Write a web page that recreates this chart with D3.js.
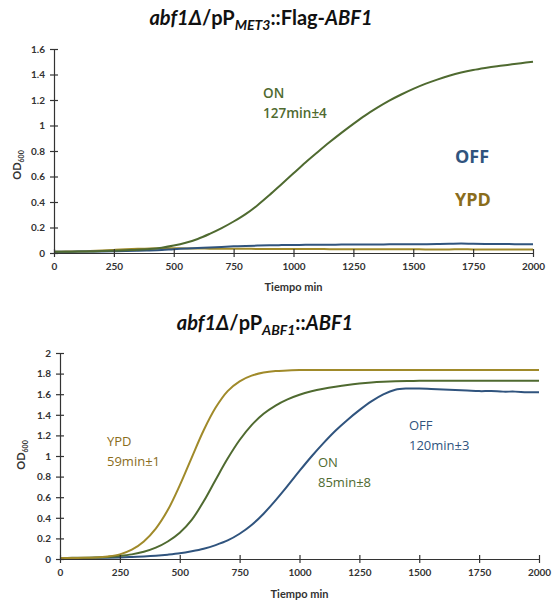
<!DOCTYPE html>
<html>
<head>
<meta charset="utf-8">
<script src="https://cdn.jsdelivr.net/npm/d3@7"></script>
<style>
  body { margin: 0; background: #fff; }
  svg { font-family: Lato, "Open Sans", sans-serif; }
</style>
</head>
<body>
<div id="chart"></div>
<script>
// time points, minutes
const times = d3.range(0, 2001, 50);
const xTicks = [0, 250, 500, 750, 1000, 1250, 1500, 1750, 2000];
const topYTicks = [0, 0.2, 0.4, 0.6, 0.8, 1, 1.2, 1.4, 1.6];
const bottomYTicks = [0, 0.2, 0.4, 0.6, 0.8, 1, 1.2, 1.4, 1.6, 1.8, 2];

// pP_MET3::Flag-ABF1
const metOn = [0.010, 0.010, 0.011, 0.012, 0.015, 0.018, 0.022, 0.026, 0.032, 0.042,
  0.058, 0.080, 0.110, 0.150, 0.195, 0.247, 0.305, 0.375, 0.455, 0.540,
  0.625, 0.710, 0.790, 0.868, 0.942, 1.013, 1.080, 1.140, 1.195, 1.243,
  1.287, 1.326, 1.360, 1.390, 1.415, 1.435, 1.451, 1.465, 1.477, 1.489, 1.500];
const metOff = [0.010, 0.010, 0.011, 0.011, 0.012, 0.013, 0.015, 0.017, 0.020, 0.024,
  0.030, 0.035, 0.040, 0.044, 0.048, 0.052, 0.055, 0.058, 0.060, 0.062,
  0.063, 0.064, 0.065, 0.065, 0.066, 0.066, 0.067, 0.067, 0.068, 0.068,
  0.069, 0.069, 0.070, 0.072, 0.074, 0.072, 0.071, 0.070, 0.070, 0.069, 0.069];
const metYpd = [0.010, 0.011, 0.012, 0.015, 0.019, 0.024, 0.029, 0.033, 0.036, 0.037,
  0.037, 0.036, 0.035, 0.034, 0.034, 0.033, 0.033, 0.032, 0.032, 0.032,
  0.031, 0.031, 0.031, 0.030, 0.030, 0.030, 0.030, 0.029, 0.029, 0.029,
  0.029, 0.028, 0.028, 0.028, 0.029, 0.028, 0.028, 0.027, 0.027, 0.027, 0.027];

// pP_ABF1::ABF1
const abfYpd = [0.010, 0.010, 0.012, 0.015, 0.025, 0.045, 0.090, 0.170, 0.295, 0.475,
  0.715, 0.985, 1.250, 1.470, 1.630, 1.725, 1.780, 1.810, 1.825, 1.830,
  1.835, 1.835, 1.835, 1.835, 1.835, 1.835, 1.835, 1.835, 1.835, 1.835,
  1.835, 1.835, 1.835, 1.835, 1.835, 1.835, 1.835, 1.835, 1.835, 1.835, 1.835];
const abfOn = [0.010, 0.011, 0.012, 0.015, 0.020, 0.030, 0.045, 0.070, 0.110, 0.170,
  0.255, 0.380, 0.560, 0.770, 0.975, 1.155, 1.300, 1.410, 1.490, 1.550,
  1.595, 1.628, 1.653, 1.673, 1.690, 1.703, 1.713, 1.720, 1.725, 1.728,
  1.730, 1.730, 1.730, 1.730, 1.730, 1.730, 1.730, 1.730, 1.730, 1.730, 1.730];
const abfOff = [0.010, 0.010, 0.010, 0.011, 0.012, 0.015, 0.020, 0.025, 0.032, 0.042,
  0.055, 0.075, 0.100, 0.135, 0.180, 0.245, 0.330, 0.440, 0.570, 0.710,
  0.855, 0.995, 1.125, 1.245, 1.350, 1.445, 1.530, 1.598, 1.643, 1.655,
  1.655, 1.650, 1.645, 1.640, 1.635, 1.630, 1.630, 1.625, 1.625, 1.620, 1.620];

const green = '#4f6a30', blue = '#30547e', gold = '#a08a2a', goldText = '#8a6d1c';

const svg = d3.select('#chart')
  .append('svg')
  .attr('width', 556)
  .attr('height', 606);

function drawPanel(opts) {
  const g = svg.append('g');
  const x = d3.scaleLinear().domain([0, 2000]).range(opts.xRange);
  const y = d3.scaleLinear().domain(opts.yDomain).range(opts.yRange);

  const line = d3.line()
    .x((d, i) => x(times[i]))
    .y(d => y(d))
    .curve(d3.curveCatmullRom.alpha(0.5));

  opts.series.forEach(s => {
    g.append('path')
      .attr('d', line(s.values))
      .attr('fill', 'none')
      .attr('stroke', s.color)
      .attr('stroke-width', 2);
  });

  const xAxis = g.append('g')
    .attr('transform', `translate(0,${opts.yRange[0]})`)
    .call(d3.axisBottom(x).tickValues(xTicks).tickSize(0).tickPadding(10)
      .tickFormat(d3.format('d')));
  xAxis.selectAll('.tick line').attr('y1', -4).attr('y2', 4);

  const yAxis = g.append('g')
    .attr('transform', `translate(${opts.xRange[0]},0)`)
    .call(d3.axisLeft(y).tickValues(opts.yTicks).tickSize(0).tickPadding(9)
      .tickFormat(d => String(+d.toFixed(1))));
  yAxis.selectAll('.tick line').attr('x1', -4).attr('x2', 4);

  [xAxis, yAxis].forEach(a => {
    a.select('.domain').attr('stroke', '#333').attr('stroke-width', 1.2);
    a.selectAll('.tick line').attr('stroke', '#333').attr('stroke-width', 1.2);
    a.selectAll('.tick text')
      .attr('fill', '#333')
      .attr('font-size', 10)
      .attr('font-weight', 'bold')
      .attr('font-family', 'Lato, sans-serif');
  });

  g.append('text')
    .attr('x', (opts.xRange[0] + opts.xRange[1]) / 2)
    .attr('y', opts.xLabelY)
    .attr('text-anchor', 'middle')
    .attr('font-size', 11)
    .attr('font-weight', 'bold')
    .attr('fill', '#333')
    .text('Tiempo min');

  const yl = g.append('text')
    .attr('transform', `translate(${opts.yLabelX},${opts.yLabelY}) rotate(-90)`)
    .attr('text-anchor', 'middle')
    .attr('font-size', 11)
    .attr('font-weight', 'bold')
    .attr('fill', '#333');
  yl.append('tspan').text('OD');
  yl.append('tspan').attr('font-size', 7).attr('dy', 3).text('600');

  // title
  const t = g.append('text')
    .attr('x', opts.titleX)
    .attr('y', opts.titleY)
    .attr('text-anchor', 'middle')
    .attr('font-size', 20)
    .attr('font-weight', 'bold')
    .attr('fill', '#111');
  opts.title.forEach(p => {
    const ts = t.append('tspan').text(p.text);
    if (p.italic) ts.attr('font-style', 'italic');
    if (p.sub) ts.attr('font-size', 14).attr('dy', 5);
    if (p.after) ts.attr('dy', -5);
  });

  opts.labels.forEach(l => {
    const tx = g.append('text')
      .attr('x', l.x)
      .attr('y', l.y)
      .attr('font-family', '"Open Sans", sans-serif')
      .attr('font-size', l.size)
      .attr('font-weight', l.weight)
      .attr('fill', l.color);
    l.lines.forEach((s, i) => {
      tx.append('tspan').attr('x', l.x).attr('dy', i ? l.size * 1.5 : 0).text(s);
    });
  });
}

drawPanel({
  xRange: [54, 533],
  yRange: [253, 49],
  yDomain: [0, 1.6],
  yTicks: topYTicks,
  xLabelY: 291,
  yLabelX: 21,
  yLabelY: 165,
  titleX: 261,
  titleY: 25,
  title: [
    { text: 'abf1Δ', italic: true },
    { text: '/pP' },
    { text: 'MET3', italic: true, sub: true },
    { text: '::Flag-', after: true },
    { text: 'ABF1', italic: true }
  ],
  series: [
    { values: metYpd, color: gold },
    { values: metOff, color: blue },
    { values: metOn, color: green }
  ],
  labels: [
    { x: 263, y: 98, size: 13.5, weight: 600, color: green, lines: ['ON', '127min±4'] },
    { x: 455, y: 163, size: 18, weight: 'bold', color: blue, lines: ['OFF'] },
    { x: 455, y: 206, size: 18, weight: 'bold', color: goldText, lines: ['YPD'] }
  ]
});

drawPanel({
  xRange: [60, 539],
  yRange: [559, 353],
  yDomain: [0, 2],
  yTicks: bottomYTicks,
  xLabelY: 598,
  yLabelX: 25,
  yLabelY: 455,
  titleX: 265,
  titleY: 330,
  title: [
    { text: 'abf1Δ', italic: true },
    { text: '/pP' },
    { text: 'ABF1', italic: true, sub: true },
    { text: '::', after: true },
    { text: 'ABF1', italic: true }
  ],
  series: [
    { values: abfOff, color: blue },
    { values: abfOn, color: green },
    { values: abfYpd, color: gold }
  ],
  labels: [
    { x: 107, y: 446, size: 13, weight: 'normal', color: goldText, lines: ['YPD', '59min±1'] },
    { x: 318, y: 467, size: 13, weight: 'normal', color: green, lines: ['ON', '85min±8'] },
    { x: 409, y: 430, size: 13, weight: 'normal', color: blue, lines: ['OFF', '120min±3'] }
  ]
});
</script>
</body>
</html>
